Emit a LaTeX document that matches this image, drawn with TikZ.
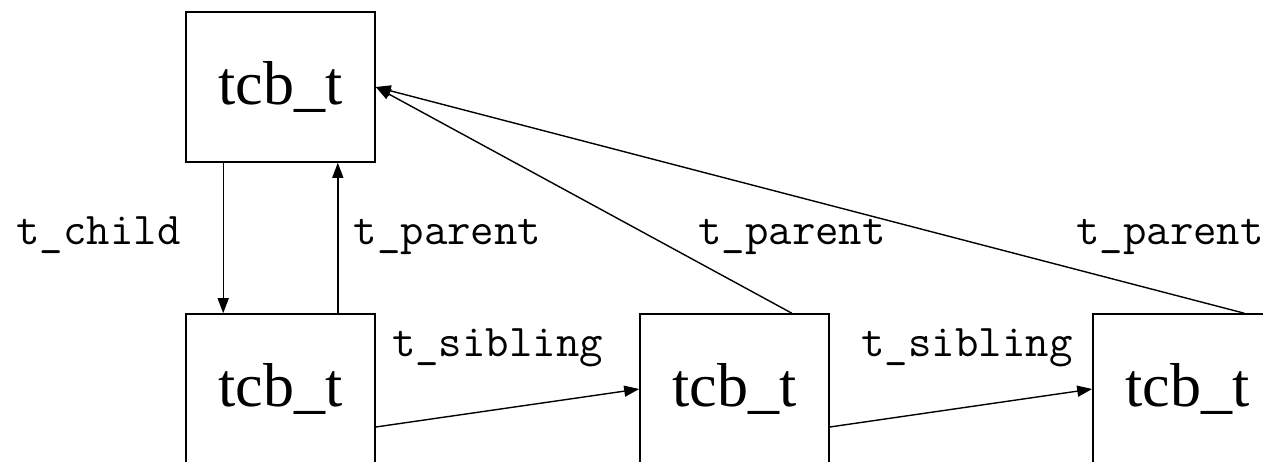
\documentclass[tikz,border=0pt]{standalone}
\usepackage{fontspec}
\setmainfont{Liberation Serif}
\usetikzlibrary{arrows.meta,calc}
\begin{document}
\begin{tikzpicture}[x=1pt,y=1pt,
  box/.style={draw,line width=1.6pt,minimum width=189pt,minimum height=150pt,inner sep=0pt,font=\fontsize{62}{62}\selectfont},
  arr/.style={line width=1.4pt,-{Triangle[length=15pt,width=11pt]}},
  lbl/.style={anchor=base,inner sep=0pt,font=\ttfamily\fontsize{45.5}{45.5}\selectfont}]
\clip (0,0) rectangle (1263,-462);
\fill[white] (0,0) rectangle (1263,-462);
\node[box] (top) at (280.5,-87) {tcb\_t};
\node[box] (bl) at (280.5,-389) {tcb\_t};
\node[box] (bm) at (734.5,-389) {tcb\_t};
\node[box] (br) at (1187.5,-389) {tcb\_t};
\draw[arr] ([xshift=38pt]top.south west) -- ([xshift=38pt]bl.north west);
\draw[arr] ([xshift=-38pt]bl.north east) -- ([xshift=-38pt]top.south east);
\draw[arr] ([xshift=-38pt]bm.north east) -- (top.east);
\draw[arr] ([xshift=152pt]br.north west) -- (top.east);
\draw[arr] ([yshift=-38pt]bl.east) -- (bm.west);
\draw[arr] ([yshift=-38pt]bm.east) -- (br.west);
\node[lbl] (l1) at (98.5,-245) {t\_child};
\node[lbl] (l2) at (447.5,-245) {t\_parent};
\node[lbl] (l3) at (792,-245) {t\_parent};
\node[lbl] (l4) at (1170,-245) {t\_parent};
\node[lbl] (l5) at (497.5,-356) {t\_sibling};
\node[lbl] (l6) at (967,-356) {t\_sibling};
\end{tikzpicture}
\end{document}
